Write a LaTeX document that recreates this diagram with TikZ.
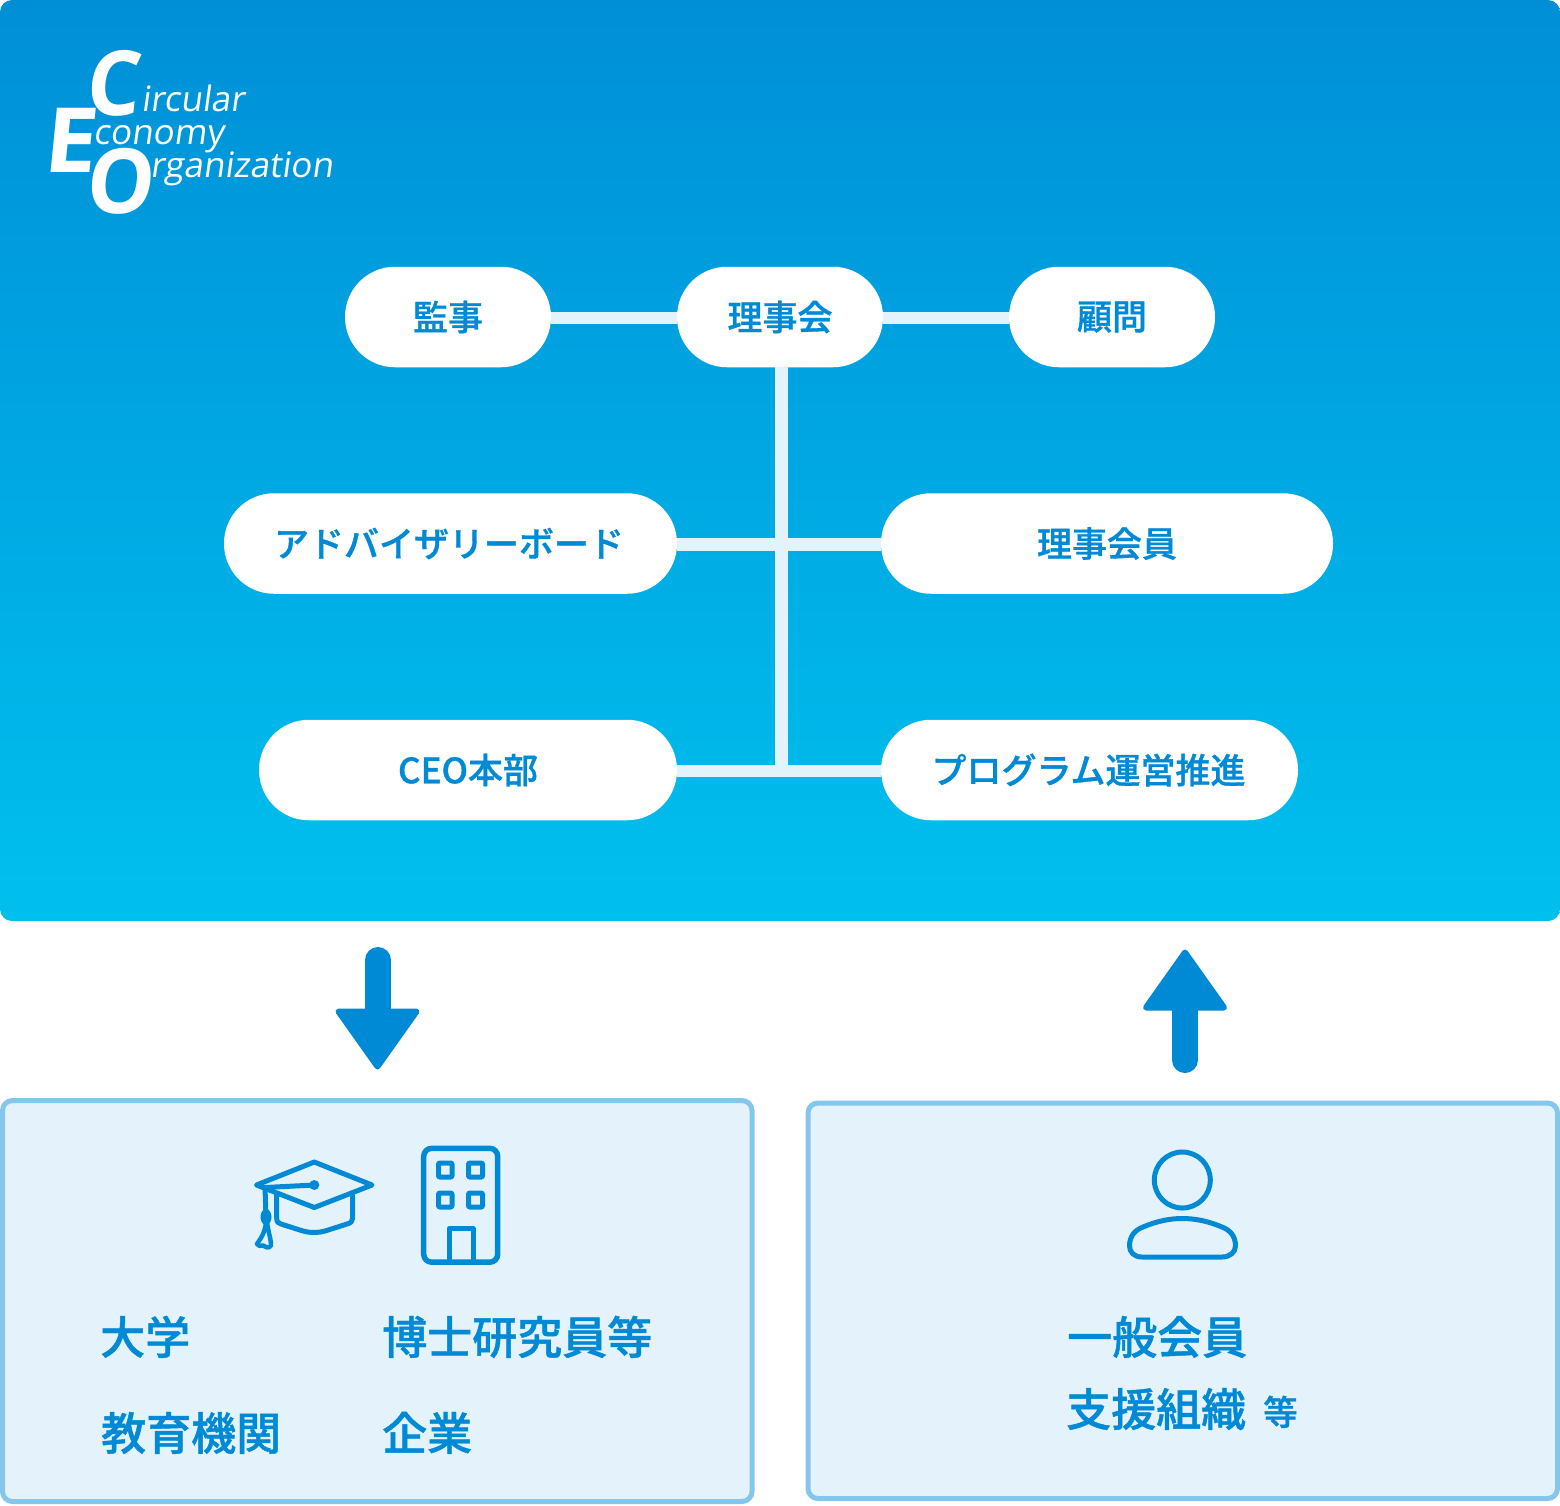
\documentclass[tikz,border=0pt]{standalone}
\usepackage{fontspec}
\usetikzlibrary{shadings}
\newfontfamily\jp[FakeBold=1]{Noto Sans CJK JP Medium}
\newfontfamily\logofont[FakeSlant=0.14]{Open Sans}
\newfontfamily\logobold[FakeSlant=0.10,FakeStretch=0.95]{Open Sans Bold}
\newfontfamily\logoboldwide[FakeSlant=0.10,FakeStretch=1.05]{Open Sans Bold}
\definecolor{gradtop}{HTML}{008FD7}
\definecolor{gradbot}{HTML}{00C0EE}
\definecolor{ink}{HTML}{008AD6}
\definecolor{panelfill}{HTML}{E4F3FB}
\definecolor{panelline}{HTML}{85C6EC}
\definecolor{linkcol}{HTML}{E3F3FB}
\tikzset{
  x=1pt,y=-1pt,
  pill/.style={fill=white,rounded corners=50pt,minimum height=100.5pt,inner sep=0pt,text=ink,
    font=\fontsize{35}{40}\selectfont\jp,anchor=center},
  link/.style={draw=linkcol,line width=12.6pt},
  panel/.style={draw=panelline,fill=panelfill,line width=5pt,rounded corners=10pt},
  bigarrow/.style={fill=ink,draw=ink,line width=6pt,line join=round},
  shaft/.style={draw=ink,line width=26pt,line cap=round},
  icon/.style={draw=ink,line width=5pt,line join=round,line cap=round},
  label/.style={text=ink,anchor=base west,inner sep=0pt,font=\fontsize{45}{50}\selectfont\jp},
  logobig/.style={text=white,anchor=base west,inner sep=0pt,font=\fontsize{90}{90}\selectfont\logobold},
  logosmall/.style={text=white,anchor=base west,inner sep=0pt,font=\fontsize{35}{40}\selectfont\logofont},
}
\begin{document}
\begin{tikzpicture}
\useasboundingbox (0,0) rectangle (1560,1505);
% top panel
\path[top color=gradtop,bottom color=gradbot,rounded corners=12pt] (0,0) rectangle (1560,921);
% logo
\node[logobig] (lc) at (84,115) {C};
\node[logobig,font=\fontsize{90}{90}\selectfont\logoboldwide] (le) at (42,172) {E};
\node[logobig] (lo) at (84,213) {O};
\node[logosmall] (l1) at (141,111) {ircular};
\node[logosmall] (l2) at (93,144) {conomy};
\node[logosmall] (l3) at (150,177.5) {rganization};
% nodes
\node[pill,minimum width=206pt] (kansa) at (448,317) {監事};
\node[pill,minimum width=206pt] (riji) at (780,317) {理事会};
\node[pill,minimum width=206pt] (komon) at (1112,317) {顧問};
\node[pill,minimum width=453pt] (adv) at (450.5,543.5) {アドバイザリーボード\kern3pt};
\node[pill,minimum width=452pt] (mem) at (1107,543.5) {理事会員};
\node[pill,minimum width=418pt] (ceo) at (468,770) {CEO本部};
\node[pill,minimum width=417pt] (prog) at (1089.5,770) {プログラム運営推進\kern2pt};
\coordinate (trunkend) at (781.3,771);
% connectors
\draw[link] ([yshift=-1pt]kansa.east) -- ([yshift=-1pt]riji.west);
\draw[link] ([yshift=-1pt]riji.east) -- ([yshift=-1pt]komon.west);
\draw[link] ([xshift=1.3pt]riji.south) -- (trunkend);
\draw[link] ([yshift=-1pt]adv.east) -- ([yshift=-1pt]mem.west);
\draw[link] ([yshift=-1pt]ceo.east) -- ([yshift=-1pt]prog.west);
% arrows
\draw[shaft] (378,960) -- (378,1015);
\path[bigarrow] (338.5,1011.5) -- (416.5,1011.5) -- (377.5,1066.5) -- cycle;
\draw[shaft] (1185,1060) -- (1185,1005);
\path[bigarrow] (1146,1007.5) -- (1224,1007.5) -- (1185,952.5) -- cycle;
% panels
\draw[panel] (2.5,1100.5) rectangle (752,1501.5);
\draw[panel] (808,1103) rectangle (1557.5,1498.5);
% mortarboard
\draw[icon] (314.3,1162) -- (372,1185) -- (314.3,1207.5) -- (256.5,1185) -- cycle;
\draw[icon] (265,1187.5) -- (314.3,1185);
\fill[ink] (314.3,1185) circle (5);
\draw[icon] (265,1187.5) -- (266,1217);
\fill[ink] (266,1217) ellipse (5.5 and 8);
\draw[icon,line width=4.5pt] (266,1222) .. controls (265,1233) and (261,1238) .. (257,1244) .. controls (260,1248) and (263,1244) .. (264,1246) .. controls (268,1249) and (272,1247) .. (271,1243) .. controls (270,1236) and (268,1230) .. (267,1222);
\draw[icon] (276.7,1194) -- (276.7,1218) .. controls (276.7,1222) and (278,1223) .. (281,1224) -- (303,1231) .. controls (310,1233) and (318,1233) .. (325,1231) -- (347,1224) .. controls (351,1223) and (352.7,1221) .. (352.7,1218) -- (352.7,1196);
% building
\draw[icon,line width=5.5pt,rounded corners=8pt] (423.7,1148.3) rectangle (497.7,1262.2);
\draw[icon,rounded corners=1pt] (438.5,1163) rectangle (452,1177);
\draw[icon,rounded corners=1pt] (468.5,1163) rectangle (482.5,1177);
\draw[icon,rounded corners=1pt] (438.5,1193) rectangle (452,1207);
\draw[icon,rounded corners=1pt] (468.5,1193) rectangle (482.5,1207);
\draw[icon] (449,1262) -- (449,1228.5) -- (473,1228.5) -- (473,1262);
% person
\draw[icon] (1182.3,1180) circle (28);
\draw[icon] (1142,1257) -- (1222,1257) .. controls (1230,1257) and (1235.5,1252) .. (1235.5,1246) .. controls (1235.5,1236) and (1230,1230) .. (1222,1227) .. controls (1208,1221) and (1195,1218.5) .. (1182.3,1218.5) .. controls (1170,1218.5) and (1157,1221) .. (1143,1227) .. controls (1135,1230) and (1129.5,1236) .. (1129.5,1246) .. controls (1129.5,1252) and (1134,1257) .. (1142,1257) -- cycle;
% labels
\node[label] (t1) at (100,1354) {大学};
\node[label] (t2) at (382,1354) {博士研究員等};
\node[label] (t3) at (101,1450) {教育機関};
\node[label] (t4) at (382,1450) {企業};
\node[label] (t5) at (1067,1354) {一般会員};
\node[label] (t6) at (1066,1426) {支援組織};
\node[label,font=\fontsize{34.5}{40}\selectfont\jp] (t7) at (1263,1425) {等};
\end{tikzpicture}
\end{document}
